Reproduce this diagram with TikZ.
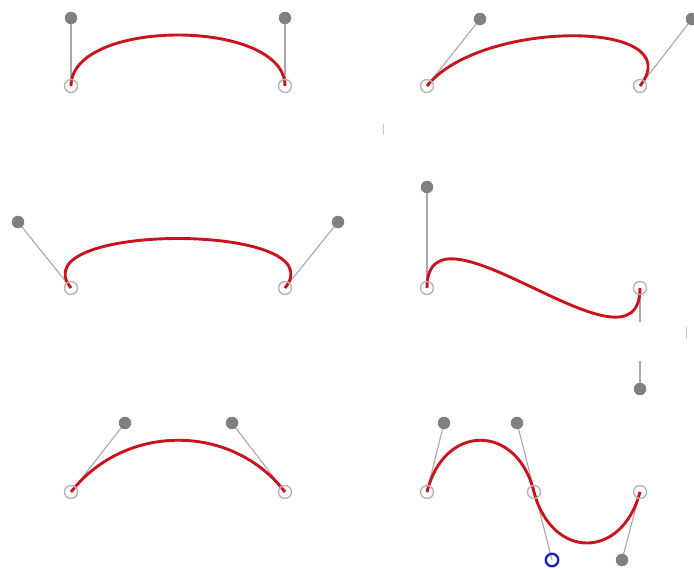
\documentclass[tikz,border=0pt]{standalone}
\usepackage{tikz}
\usepackage{xcolor}
\definecolor{curvered}{HTML}{C8141E}
\definecolor{handlegray}{HTML}{A8A8A8}
\definecolor{dotgray}{HTML}{808080}
\definecolor{ringgray}{HTML}{B4B4B4}
\definecolor{activeblue}{HTML}{1E1EB4}
\definecolor{faint}{HTML}{C8C8C8}
\tikzset{
  bez/.style       ={draw=curvered, line width=2.9pt},
  handle/.style    ={draw=handlegray, line width=1.1pt},
  anchorpt/.style  ={circle, draw=ringgray, line width=1.4pt,
                     minimum size=13pt, inner sep=0pt},
  ctrlpt/.style    ={circle, fill=dotgray, minimum size=12.5pt, inner sep=0pt},
  activept/.style  ={circle, draw=activeblue, line width=2.3pt,
                     minimum size=12.5pt, inner sep=0pt},
  speck/.style     ={draw=faint, line width=1pt},
}
\begin{document}
\begin{tikzpicture}[x=1pt,y=-1pt]
  \useasboundingbox (0,0) rectangle (694,569);

  % top left: vertical handles
  \coordinate (a1) at (71,86);   \coordinate (c1) at (71,18);
  \coordinate (b1) at (285,86);  \coordinate (d1) at (285,18);
  % top right: slanted handles
  \coordinate (a2) at (427,86);  \coordinate (c2) at (480,19);
  \coordinate (b2) at (640,86);  \coordinate (d2) at (692,19);
  % middle left: outward handles
  \coordinate (a3) at (71,288);  \coordinate (c3) at (18,222);
  \coordinate (b3) at (285,288); \coordinate (d3) at (338,222);
  % middle right: opposite handles
  \coordinate (a4) at (427,288); \coordinate (c4) at (427,187);
  \coordinate (b4) at (640,288); \coordinate (d4) at (640,389);
  % bottom left: inward handles
  \coordinate (a5) at (71,492);  \coordinate (c5) at (125,423);
  \coordinate (b5) at (285,492); \coordinate (d5) at (232,423);
  % bottom right: two joined segments
  \coordinate (a6) at (427,492); \coordinate (c6) at (444,423);
  \coordinate (m6) at (534,492); \coordinate (d6) at (517,423);
  \coordinate (e6) at (552,560); \coordinate (f6) at (622,560);
  \coordinate (b6) at (640,492);

  % handles
  \draw[handle] (a1) -- (c1);  \draw[handle] (b1) -- (d1);
  \draw[handle] (a2) -- (c2);  \draw[handle] (b2) -- (d2);
  \draw[handle] (a3) -- (c3);  \draw[handle] (b3) -- (d3);
  \draw[handle] (a4) -- (c4);
  \draw[handle, dash pattern=on 34pt off 39pt on 40pt] (b4) -- (d4);
  \draw[handle] (a5) -- (c5);  \draw[handle] (b5) -- (d5);
  \draw[handle] (a6) -- (c6);  \draw[handle] (d6) -- (e6);
  \draw[handle] (b6) -- (f6);

  % curves
  \draw[bez] (a1) .. controls (c1) and (d1) .. (b1);
  \draw[bez] (a2) .. controls (c2) and (d2) .. (b2);
  \draw[bez] (a3) .. controls (c3) and (d3) .. (b3);
  \draw[bez] (a4) .. controls (c4) and (d4) .. (b4);
  \draw[bez] (a5) .. controls (c5) and (d5) .. (b5);
  \draw[bez] (a6) .. controls (c6) and (d6) .. (m6)
                  .. controls (e6) and (f6) .. (b6);

  % points
  \foreach \p in {a1,b1,a2,b2,a3,b3,a4,b4,a5,b5,a6,m6,b6}
    \node[anchorpt] (n\p) at (\p) {};
  \foreach \p in {c1,d1,c2,d2,c3,d3,c4,d4,c5,d5,c6,d6,f6}
    \node[ctrlpt] (n\p) at (\p) {};
  \node[activept] (ne6) at (e6) {};

  % stray marks
  \coordinate (s1) at (383,124); \coordinate (s2) at (383,135);
  \coordinate (s3) at (686,327); \coordinate (s4) at (686,338);
  \draw[speck] (s1) -- (s2);
  \draw[speck] (s3) -- (s4);
\end{tikzpicture}
\end{document}
